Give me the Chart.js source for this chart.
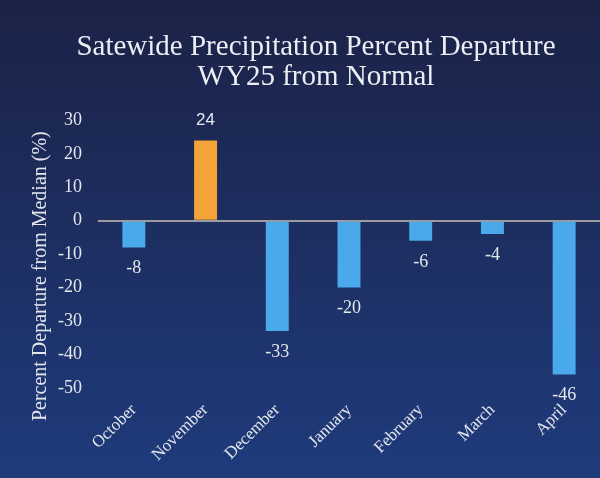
<!DOCTYPE html>
<html>
<head>
<meta charset="utf-8">
<script src="https://cdn.jsdelivr.net/npm/chart.js@4/dist/chart.umd.min.js"></script>
<style>
  html, body { margin: 0; padding: 0; background: #1c2a58; }
  #wrap { width: 600px; height: 478px; }
</style>
</head>
<body>
<div id="wrap"><canvas id="chart" width="600" height="478"></canvas></div>
<script>
// values
var months = ['October', 'November', 'December', 'January', 'February', 'March', 'April'];
var departure = [-8, 24, -33, -20, -6, -4, -46];
var yTicks = [30, 20, 10, 0, -10, -20, -30, -40, -50];
var yTitle = 'Percent Departure from Median (%)';

var serif = '"Liberation Serif", "DejaVu Serif", serif';
var txt = '#e4e6ee';

var barColors = departure.map(function (v) {
  return v > 0 ? '#f4a338' : '#4aa9ea';
});

// dark navy gradient behind everything
var bgPlugin = {
  id: 'bg',
  beforeDraw: function (chart) {
    var c = chart.ctx;
    var g = c.createLinearGradient(0, 0, 0, chart.height);
    g.addColorStop(0, '#1b2246');
    g.addColorStop(1, '#1f3b7c');
    c.save();
    c.fillStyle = g;
    c.fillRect(0, 0, chart.width, chart.height);
    c.restore();
  }
};

// value labels above / below each bar, plus the y axis title (sits a bit low in the original)
var valuePlugin = {
  id: 'values',
  afterDatasetsDraw: function (chart) {
    var c = chart.ctx;
    var meta = chart.getDatasetMeta(0);
    c.save();
    c.fillStyle = txt;
    c.textAlign = 'center';
    c.textBaseline = 'middle';
    meta.data.forEach(function (bar, i) {
      var v = departure[i];
      if (v >= 0) {
        c.font = '17px "Liberation Sans", Arial, sans-serif';
        c.fillText(String(v), bar.x, bar.y - 20);
      } else {
        c.font = '18px ' + serif;
        c.fillText(String(v), bar.x, bar.y + 21);
      }
    });
    var ys = chart.scales.y;
    c.translate(41, (ys.top + ys.bottom) / 2 + 22);
    c.rotate(-Math.PI / 2);
    c.font = '20px ' + serif;
    c.fillText(yTitle, 0, 0);
    c.restore();
  }
};

var ctx = document.getElementById('chart').getContext('2d');
var myChart = new Chart(ctx, {
  type: 'bar',
  data: {
    labels: months,
    datasets: [{
      label: 'Percent Departure',
      data: departure,
      backgroundColor: barColors,
      borderWidth: 0,
      barPercentage: 0.32,
      categoryPercentage: 1.0
    }]
  },
  options: {
    responsive: false,
    animation: false,
    // the original plot runs a few px past the right edge
    layout: { padding: { left: 28, right: -4, top: 0, bottom: 0 } },
    plugins: {
      legend: { display: false },
      tooltip: { enabled: false },
      title: {
        display: true,
        text: ['Satewide Precipitation Percent Departure', 'WY25 from Normal'],
        color: '#eceef4',
        font: { family: serif, size: 29, weight: 'normal', lineHeight: 1.04 },
        padding: { top: 32, bottom: 28 }
      }
    },
    scales: {
      x: {
        grid: { display: false, drawTicks: false },
        border: { display: false },
        ticks: {
          color: txt,
          font: { family: serif, size: 17 },
          maxRotation: 45,
          minRotation: 45,
          padding: 12
        },
        afterFit: function (scale) { scale.height = 90; }
      },
      y: {
        min: -50,
        max: 30,
        afterBuildTicks: function (scale) {
          scale.ticks = yTicks.map(function (v) { return { value: v }; });
        },
        afterFit: function (scale) { scale.width = 70; },
        grid: {
          drawTicks: false,
          color: function (c) { return c.tick && c.tick.value === 0 ? '#9c9c9c' : 'rgba(0,0,0,0)'; },
          lineWidth: 2
        },
        border: { display: false },
        ticks: {
          color: txt,
          font: { family: serif, size: 18 },
          padding: 16
        },
        title: { display: false }
      }
    }
  },
  plugins: [bgPlugin, valuePlugin]
});
</script>
</body>
</html>
